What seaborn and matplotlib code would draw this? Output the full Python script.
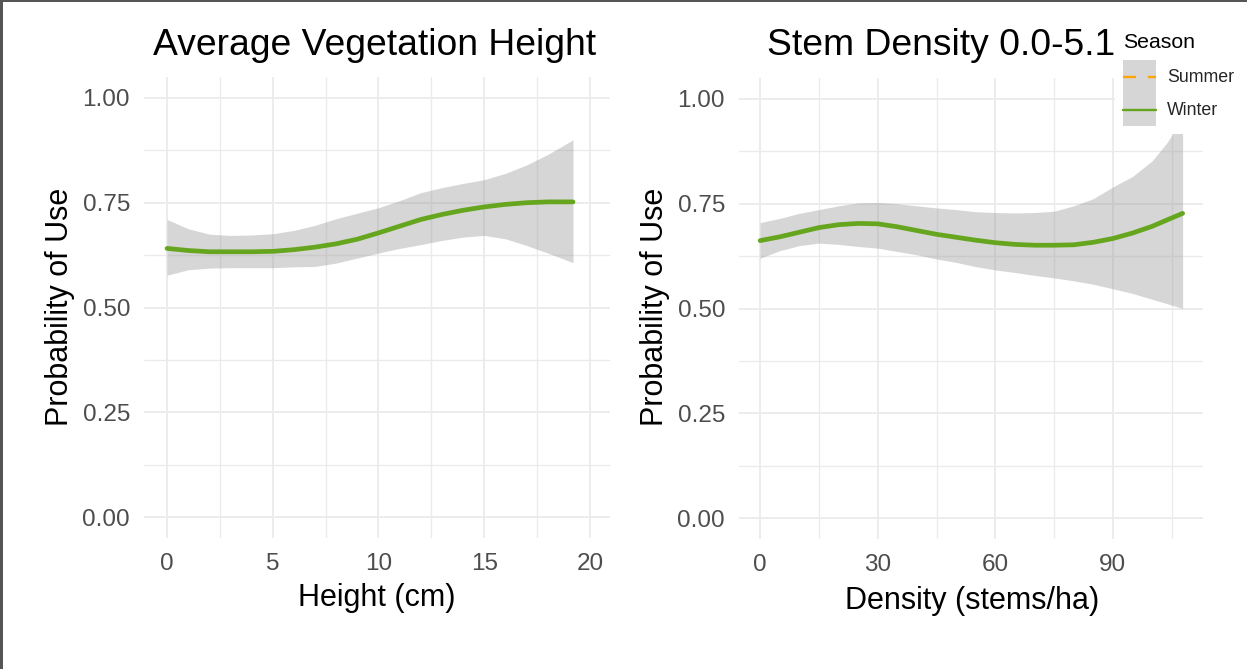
import matplotlib
matplotlib.use("Agg")
import matplotlib.pyplot as plt
from matplotlib.lines import Line2D
from matplotlib.patches import Patch, Rectangle
from matplotlib.legend_handler import HandlerTuple, HandlerLine2D
import numpy as np
import pandas as pd
import seaborn as sns

# ---- fitted probability of use vs. average vegetation height (Winter) ----
height_cm = [0, 1, 2, 3, 4, 5, 6, 7, 8, 9, 10, 11, 12, 13, 14, 15, 16, 17, 18, 19.2]
height_fit = [0.641, 0.636, 0.633, 0.633, 0.633, 0.634, 0.638, 0.644, 0.652, 0.663,
              0.678, 0.694, 0.710, 0.722, 0.732, 0.740, 0.746, 0.750, 0.752, 0.752]
height_upper = [0.710, 0.688, 0.675, 0.672, 0.673, 0.676, 0.684, 0.696, 0.712, 0.725,
                0.738, 0.755, 0.774, 0.786, 0.796, 0.805, 0.820, 0.840, 0.865, 0.900]
height_lower = [0.577, 0.590, 0.594, 0.595, 0.595, 0.595, 0.597, 0.598, 0.606, 0.618,
                0.630, 0.641, 0.650, 0.660, 0.668, 0.672, 0.664, 0.648, 0.630, 0.607]

# ---- fitted probability of use vs. stem density (Winter) ----
density = [0, 5, 10, 15, 20, 25, 30, 35, 40, 45, 50, 55, 60, 65, 70, 75, 80, 85, 90,
           95, 100, 104, 107.8]
density_fit = [0.662, 0.671, 0.682, 0.693, 0.700, 0.703, 0.702, 0.695, 0.686, 0.677,
               0.670, 0.663, 0.657, 0.653, 0.651, 0.651, 0.652, 0.658, 0.667, 0.680,
               0.696, 0.712, 0.727]
density_upper = [0.705, 0.715, 0.727, 0.736, 0.745, 0.752, 0.753, 0.750, 0.745, 0.740,
                 0.736, 0.731, 0.729, 0.728, 0.729, 0.732, 0.745, 0.762, 0.790, 0.815,
                 0.852, 0.898, 0.955]
density_lower = [0.620, 0.638, 0.650, 0.656, 0.653, 0.648, 0.644, 0.636, 0.628, 0.618,
                 0.610, 0.600, 0.592, 0.586, 0.579, 0.573, 0.566, 0.558, 0.547, 0.536,
                 0.522, 0.511, 0.500]

seasons = ["Summer", "Winter"]
season_colors = {"Summer": "#FFA500", "Winter": "#66A61E"}

titles = ["Average Vegetation Height", "Stem Density 0.0-5.1"]
x_labels = ["Height (cm)", "Density (stems/ha)"]
y_label = "Probability of Use"
legend_title = "Season"
y_ticks = [0.0, 0.25, 0.5, 0.75, 1.0]
y_ticklabels = ["0.00", "0.25", "0.50", "0.75", "1.00"]

sns.set_theme(style="white")
plt.rcParams["font.family"] = ["Liberation Sans", "DejaVu Sans"]

W, H = 1247, 669
fig = plt.figure(figsize=(W / 100, H / 100), dpi=100)
fig.patch.set_facecolor("white")


def box(l, t, r, b):
    return [l / W, 1 - b / H, (r - l) / W, (b - t) / H]


ax1 = fig.add_axes(box(144, 77, 610, 538))
ax2 = fig.add_axes(box(739, 78, 1203, 539))

GRID = "#EBEBEB"
CI_FILL = "#999999"
TICK_COL = "#4D4D4D"


def draw_panel(ax, x, fit, lo, hi, xlim, xmajor, xminor):
    df = pd.DataFrame({"x": x, "fit": fit, "lo": lo, "hi": hi,
                       "Season": "Winter"})
    ax.set_facecolor("white")
    ax.set_axisbelow(True)
    ax.set_xlim(*xlim)
    ax.set_ylim(-0.05, 1.05)
    ax.set_xticks(xmajor)
    ax.set_xticks(xminor, minor=True)
    ax.set_yticks(y_ticks)
    ax.set_yticks([0.125, 0.375, 0.625, 0.875], minor=True)
    ax.set_yticklabels(y_ticklabels)
    ax.grid(which="major", color=GRID, linewidth=1.3)
    ax.grid(which="minor", color=GRID, linewidth=1.0)
    ax.fill_between(df["x"], df["lo"], df["hi"], color=CI_FILL, alpha=0.4,
                    linewidth=0, zorder=2)
    sns.lineplot(data=df, x="x", y="fit", hue="Season", palette=season_colors,
                 hue_order=["Winter"], linewidth=3.4, legend=False, ax=ax,
                 zorder=3)
    for s in ax.spines.values():
        s.set_visible(False)
    ax.tick_params(axis="both", which="both", length=0, labelsize=17.5,
                   labelcolor=TICK_COL)
    ax.tick_params(axis="y", pad=10)
    ax.tick_params(axis="x", pad=11)
    ax.set_xlabel("")
    ax.set_ylabel("")


draw_panel(ax1, height_cm, height_fit, height_lower, height_upper,
           (-1.09, 20.95), [0, 5, 10, 15, 20], [2.5, 7.5, 12.5, 17.5])
draw_panel(ax2, density, density_fit, density_lower, density_upper,
           (-5.4, 113.0), [0, 30, 60, 90], [15, 45, 75, 105])


def ftext(x, y, s, **kw):
    fig.text(x / W, 1 - y / H, s, **kw)


# titles
ftext(374.5, 55, titles[0], ha="center", va="baseline", fontsize=26.8, color="black")
ftext(941, 55, titles[1], ha="center", va="baseline", fontsize=26.8, color="black")
# axis titles
ftext(376.5, 598, x_labels[0], ha="center", va="center", fontsize=22, color="black")
ftext(972, 601, x_labels[1], ha="center", va="center", fontsize=22, color="black")
ftext(60, 307, y_label, ha="center", va="center", rotation=90, fontsize=22,
      color="black")
ftext(655, 307, y_label, ha="center", va="center", rotation=90, fontsize=22,
      color="black")


class CenteredLineHandler(HandlerLine2D):
    """Legend line drawn through the middle of a tall key box."""

    def create_artists(self, legend, orig_handle, xdescent, ydescent, width,
                       height, fontsize, trans):
        artists = super().create_artists(legend, orig_handle, xdescent, ydescent,
                                         width, height, fontsize, trans)
        ymid = height / 2 - ydescent
        for a in artists:
            if isinstance(a, Line2D):
                a.set_ydata(np.full(len(a.get_xdata()), ymid))
        return artists


# legend: grey key background with the season line on top
handles = []
for s in seasons:
    ls = (0, (5.5, 5.0)) if s == "Summer" else "-"
    handles.append((Patch(facecolor="#D6D6D6", edgecolor="none"),
                    Line2D([], [], color=season_colors[s], linewidth=1.7,
                           linestyle=ls)))
leg = fig.legend(handles, seasons,
                 handler_map={tuple: HandlerTuple(ndivide=1, pad=0),
                              Line2D: CenteredLineHandler()},
                 loc="upper left", bbox_to_anchor=(1115 / W, 1 - 52 / H),
                 fontsize=12.8, frameon=True,
                 fancybox=False, framealpha=1.0, facecolor="white",
                 edgecolor="none", handlelength=1.86, handleheight=2.48,
                 handletextpad=0.62, labelspacing=0.0, borderpad=0.45,
                 borderaxespad=0.0)
ftext(1123, 48, legend_title, ha="left", va="baseline", fontsize=15.3,
      color="black", zorder=6)

# outer frame on the left and top edges
fig.add_artist(Rectangle((0, 0), 2.5 / W, 1, transform=fig.transFigure,
                         facecolor="#555555", edgecolor="none", zorder=10))
fig.add_artist(Rectangle((0, 1 - 1.5 / H), 1, 1.5 / H, transform=fig.transFigure,
                         facecolor="#555555", edgecolor="none", zorder=10))

fig.savefig("out.png", dpi=100, facecolor="white")
